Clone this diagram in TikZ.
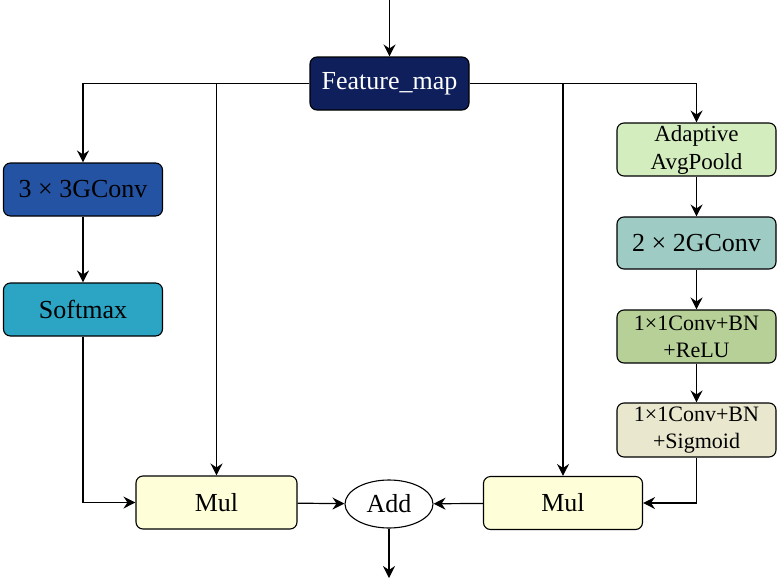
\documentclass[tikz,border=0pt]{standalone}
\usepackage{fontspec}
\setmainfont{Liberation Serif}
\usetikzlibrary{arrows.meta,shapes.geometric,positioning}

\definecolor{navyc}{HTML}{0E1F5B}
\definecolor{convthree}{HTML}{2553A4}
\definecolor{softc}{HTML}{2CA4C4}
\definecolor{poolc}{HTML}{D4EDBF}
\definecolor{convtwo}{HTML}{9ECBC3}
\definecolor{reluc}{HTML}{B6D097}
\definecolor{sigmc}{HTML}{E9E7CD}
\definecolor{mulc}{HTML}{FEFFD8}

\begin{document}
\begin{tikzpicture}[x=1pt, y=-1pt,
    block/.style={draw, line width=1.1pt, rounded corners=7pt, minimum width=159pt, minimum height=53pt, align=center, inner sep=0pt, font=\fontsize{26}{30}\selectfont},
    small/.style={font=\fontsize{22}{27}\selectfont},
    arr/.style={-{Stealth[length=12pt, width=12pt, inset=4pt]}, line width=1.2pt}
]
\useasboundingbox (0,0) rectangle (780,582);

\node[block, fill=navyc, text=white] (fmap) at (389.5,83.5) {Feature\_map};
\node[block, fill=convthree] (conv3) at (83,189.5) {3 × 3GConv};
\node[block, fill=softc] (soft) at (83,309.5) {Softmax};
\node[block, fill=mulc, minimum width=161pt] (mulL) at (216.5,502.5) {Mul};
\node[draw, line width=1.1pt, ellipse, minimum width=88pt, minimum height=48pt, inner sep=0pt, font=\fontsize{26}{30}\selectfont] (add) at (389,504) {Add};
\node[block, fill=mulc] (mulR) at (563,503) {Mul};

\node[block, small, fill=poolc, font=\fontsize{23}{28}\selectfont] (pool) at (696.5,149.5) {Adaptive\\AvgPoold};
\node[block, fill=convtwo, minimum height=52pt] (conv2) at (696.5,243) {2 × 2GConv};
\node[block, small, fill=reluc] (relu) at (696.5,336.5) {1×1Conv+BN\\+ReLU};
\node[block, small, fill=sigmc, minimum height=54pt] (sigm) at (696.5,430) {1×1Conv+BN\\+Sigmoid};

\coordinate (in) at (389.5,0);
\coordinate (out) at (389,578);

\draw[arr] (in) -- (fmap);
\draw[arr] (fmap.west) -| (conv3.north);
\draw[arr] (mulL.north |- fmap) -- (mulL.north);
\draw[arr] (fmap.east) -| (pool.north);
\draw[arr] (mulR.north |- fmap) -- (mulR.north);

\draw[arr] (conv3) -- (soft);
\draw[arr] (soft.south) |- (mulL.west);

\draw[arr] (pool) -- (conv2);
\draw[arr] (conv2) -- (relu);
\draw[arr] (relu) -- (sigm);
\draw[arr] (sigm.south) |- (mulR.east);

\draw[arr] (mulL) -- (add);
\draw[arr] (mulR) -- (add);
\draw[arr] (add) -- (out);
\end{tikzpicture}
\end{document}
